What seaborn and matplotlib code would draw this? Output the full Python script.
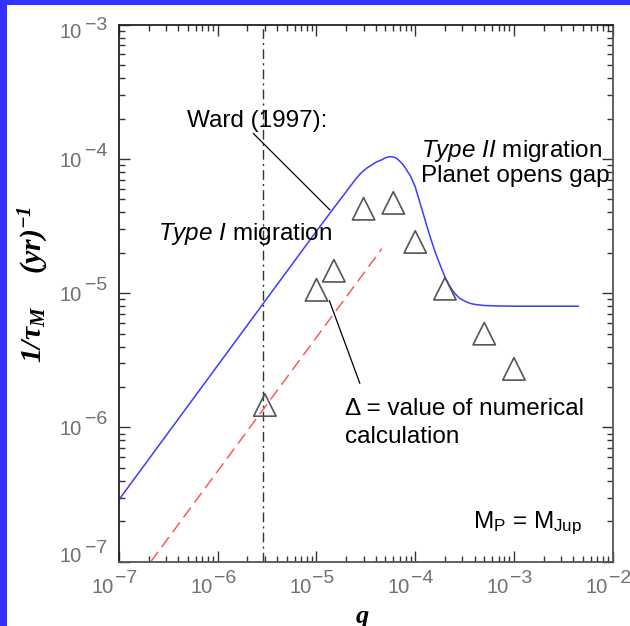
import matplotlib
matplotlib.use("Agg")
import matplotlib.pyplot as plt
import seaborn as sns
import pandas as pd
from matplotlib.patches import Rectangle

# ---------------- data ----------------
ward_q = [1e-7, 1e-6, 1e-5, 1.3e-5, 1.6e-5, 2e-5, 2.5e-5, 2.8e-5, 3.2e-5, 3.6e-5,
          4e-5, 4.5e-5, 5e-5, 5.5e-5, 6e-5, 6.5e-5, 7e-5, 7.5e-5, 8e-5, 9e-5,
          1e-4, 1.1e-4, 1.26e-4, 1.4e-4, 1.6e-4, 1.8e-4, 2e-4, 2.25e-4, 2.5e-4, 2.8e-4,
          3.2e-4, 3.6e-4, 4e-4, 5e-4, 6.3e-4, 1e-3, 4.5e-3]
ward_rate = [2.9e-7, 2.9e-6, 2.9e-5, 3.75e-5, 4.6e-5, 5.7e-5, 7.1e-5, 7.8e-5, 8.5e-5, 9.0e-5,
             9.45e-5, 9.8e-5, 1.02e-4, 1.04e-4, 1.035e-4, 1.01e-4, 9.6e-5, 9.1e-5, 8.5e-5, 7.4e-5,
             6.2e-5, 4.9e-5, 3.5e-5, 2.7e-5, 2.0e-5, 1.6e-5, 1.32e-5, 1.12e-5, 1.0e-5, 9.2e-6,
             8.7e-6, 8.4e-6, 8.25e-6, 8.1e-6, 8.05e-6, 8.0e-6, 8.0e-6]

linear_q = [2.1e-7, 4.6e-5]
linear_rate = [1.0e-7, 2.15e-5]

numerical_q = [3e-6, 1e-5, 1.5e-5, 3e-5, 6e-5, 1e-4, 2e-4, 5e-4, 1e-3]
numerical_rate = [1.47e-6, 1.06e-5, 1.47e-5, 4.26e-5, 4.71e-5, 2.41e-5, 1.08e-5, 5.0e-6, 2.73e-6]

q_marker_line = 2.85e-6

x_tick_exponents = [-7, -6, -5, -4, -3, -2]
y_tick_exponents = [-7, -6, -5, -4, -3]

# ---------------- style ----------------
sns.set_style("white")
plt.rcParams.update({
    "font.family": ["Liberation Sans", "DejaVu Sans"],
    "text.color": "black",
    "mathtext.fontset": "custom",
    "mathtext.rm": "Liberation Sans",
    "mathtext.it": "Liberation Sans:italic",
    "mathtext.bf": "Liberation Sans:bold",
    "mathtext.bfit": "Liberation Serif:italic:bold",
})

W, H = 630, 626
K = 100 / 72.0  # px per point

fig = plt.figure(figsize=(W / 100, H / 100), dpi=100, facecolor="#3333ff")
fig.patches.append(Rectangle((7 / W, 0), 1, 1 - 5 / H, transform=fig.transFigure,
                             facecolor="white", edgecolor="none", zorder=-10))

ax = fig.add_axes([119 / W, 1 - 561.7 / H, (612.7 - 119) / W, (561.7 - 24.7) / H])
ax.set_facecolor("white")
ax.set_xscale("log")
ax.set_yscale("log")

ward = pd.DataFrame({"q": ward_q, "rate": ward_rate})
linear = pd.DataFrame({"q": linear_q, "rate": linear_rate})
numerical = pd.DataFrame({"q": numerical_q, "rate": numerical_rate})

sns.lineplot(data=ward, x="q", y="rate", ax=ax, color="#3c3cff", linewidth=1.1,
             estimator=None, sort=False)
sns.lineplot(data=linear, x="q", y="rate", ax=ax, color="#ff5a5a", linewidth=1.1,
             estimator=None, sort=False, linestyle=(0, (8, 4)))
ax.axvline(q_marker_line, color="#333333", linewidth=1.0, linestyle=(0, (7, 3, 1.5, 3)))
sns.scatterplot(data=numerical, x="q", y="rate", ax=ax, marker="^", s=260,
                facecolor="none", edgecolor="#555555", linewidth=1.2, zorder=5)

ax.set_xlim(1e-7, 1e-2)
ax.set_ylim(1e-7, 1e-3)
ax.set_xlabel("")
ax.set_ylabel("")

# leader lines
ax.annotate("", xy=(1.37e-5, 4.17e-5), xytext=(2.29e-6, 1.55e-4),
            arrowprops=dict(arrowstyle="-", color="black", lw=0.9, shrinkA=0, shrinkB=0))
ax.annotate("", xy=(1.35e-5, 8.8e-6), xytext=(2.75e-5, 2.13e-6),
            arrowprops=dict(arrowstyle="-", color="black", lw=0.9, shrinkA=0, shrinkB=0))

# spines & ticks
for side, sp in ax.spines.items():
    sp.set_visible(True)
    sp.set_linewidth(1.3)
    sp.set_color("#222222" if side in ("left", "top") else "#555555")
ax.tick_params(which="both", direction="in", top=True, right=True, bottom=True, left=True,
               labelbottom=False, labelleft=False, color="#333333", width=1)
ax.tick_params(which="major", length=8)
ax.tick_params(which="minor", length=4)

# tick labels (10 with large raised exponent, grey)
tick_color = "#707070"
fs_base, fs_exp = 14.5, 14
for e in x_tick_exponents:
    v = 10.0 ** e
    ax.annotate("10", xy=(v, 0), xycoords=("data", "axes fraction"),
                xytext=(-5 / K, -31.5 / K), textcoords="offset points",
                ha="right", va="baseline", fontsize=fs_base, color=tick_color,
                annotation_clip=False)
    ax.annotate(f"\u2212{-e}", xy=(v, 0), xycoords=("data", "axes fraction"),
                xytext=(-4 / K, -21.6 / K), textcoords="offset points",
                ha="left", va="baseline", fontsize=fs_exp, color=tick_color,
                annotation_clip=False)
for e in y_tick_exponents:
    v = 10.0 ** e
    if e == y_tick_exponents[-1]:
        db, dx = -13.6, -5.3
    elif e == y_tick_exponents[0]:
        db, dx = 0.0, 8.7
    else:
        db, dx = -8.0, 3.0
    ax.annotate("10", xy=(0, v), xycoords=("axes fraction", "data"),
                xytext=(-37 / K, db / K), textcoords="offset points",
                ha="right", va="baseline", fontsize=fs_base, color=tick_color,
                annotation_clip=False)
    ax.annotate(f"\u2212{-e}", xy=(0, v), xycoords=("axes fraction", "data"),
                xytext=(-34 / K, dx / K), textcoords="offset points",
                ha="left", va="baseline", fontsize=fs_exp, color=tick_color,
                annotation_clip=False)


def ftext(xp, yp, s, **kw):
    return fig.text(xp / W, 1 - yp / H, s, **kw)


# axis titles
ftext(362, 616, "q", fontsize=19, ha="center", va="center",
      family="Liberation Serif", style="italic", weight="bold")
ftext(34, 363, r"$\mathbfit{1/\tau_{M}\ \ \ \ (yr)^{-1}}$", fontsize=21.5,
      ha="center", va="bottom", rotation=90)

# annotations
fs = 17.5
ftext(186.7, 127, "Ward (1997):", fontsize=fs, ha="left", va="baseline")
ftext(158.3, 240, r"$\mathit{Type\ I}$ migration", fontsize=fs, ha="left", va="baseline")
ftext(421, 156.7, r"$\mathit{Type\ II}$ migration", fontsize=fs, ha="left", va="baseline")
ftext(421, 182, "Planet opens gap", fontsize=fs, ha="left", va="baseline")
ftext(345, 415, "\u0394 = value of numerical", fontsize=fs, ha="left", va="baseline")
ftext(345, 443.3, "calculation", fontsize=fs, ha="left", va="baseline")
ftext(473.3, 527.7, r"M$_\mathrm{P}$ = M$_\mathrm{Jup}$", fontsize=fs, ha="left", va="baseline")

fig.savefig("out.png", dpi=100, facecolor=fig.get_facecolor())
